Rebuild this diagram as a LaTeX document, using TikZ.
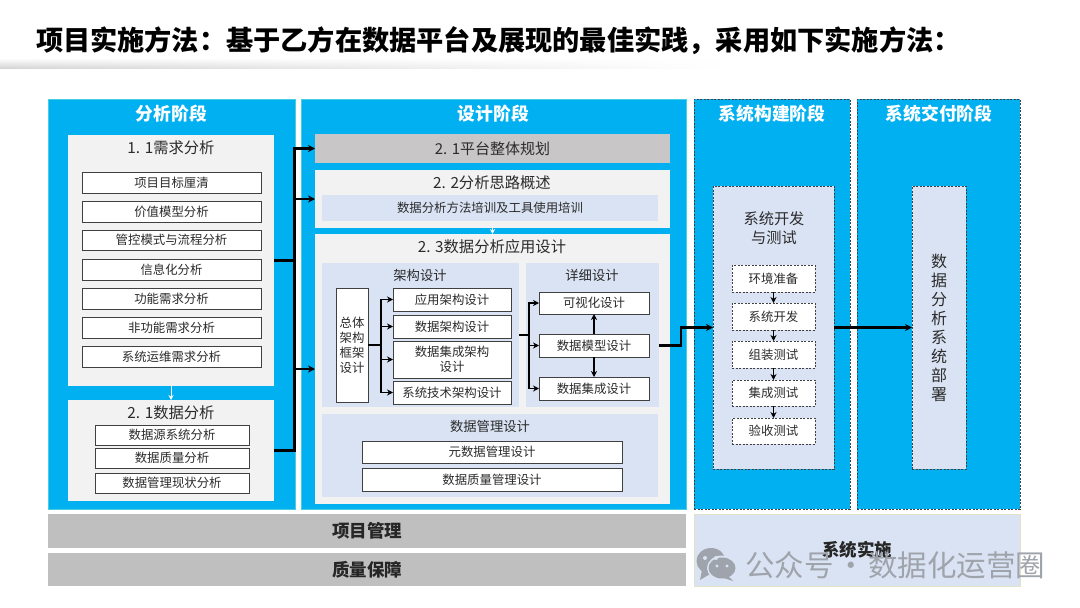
\documentclass[tikz,border=0pt]{standalone}
\usepackage{fontspec}
\setmainfont{Noto Sans CJK SC}
\usetikzlibrary{arrows.meta,calc,fadings}
\definecolor{cblue}{HTML}{00B0F0}
\definecolor{cpale}{HTML}{DAE3F3}
\definecolor{cgrey}{HTML}{F2F2F2}
\definecolor{cbar}{HTML}{BFBFBF}
\definecolor{cplan}{HTML}{C8C6C6}
\definecolor{ctext}{HTML}{2B2B2B}
\definecolor{cedge}{HTML}{404040}
\definecolor{cmark}{HTML}{9FA3AB}
\definecolor{cteal}{HTML}{45CFE0}
\tikzset{
  x=1pt,y=-1pt,
  every node/.style={inner sep=0pt,outer sep=0pt,align=center,text=ctext},
  phase/.style={fill=cblue,draw=cteal,line width=.6pt},
  dphase/.style={fill=cblue,draw=cedge,line width=.7pt,dash pattern=on 2pt off 1.5pt},
  greybox/.style={fill=cgrey},
  palebox/.style={fill=cpale},
  planbox/.style={fill=cplan,font=\fontsize{15}{17}\selectfont},
  whitebox/.style={fill=white,draw=cedge,line width=.9pt,font=\fontsize{12.4}{15}\selectfont},
  dashbox/.style={fill=white,draw=cedge,line width=.7pt,dash pattern=on 2pt off 1.5pt,font=\fontsize{12.4}{15}\selectfont},
  dashpale/.style={fill=cpale,draw=cedge,line width=.7pt,dash pattern=on 2pt off 1.5pt},
  bar/.style={fill=cbar,font=\fontsize{17.5}{19}\selectfont\bfseries,text=black!85},
  phasetitle/.style={text=white,font=\fontsize{17.8}{19}\selectfont\bfseries},
  subtitle/.style={font=\fontsize{15.3}{17}\selectfont},
  smalltitle/.style={font=\fontsize{13.3}{15}\selectfont},
  wire/.style={draw=black,line width=2.2pt},
  arr/.style={draw=black,line width=2.2pt,-{Stealth[length=7pt,width=7pt]}},
  thinwire/.style={draw=black,line width=1.4pt},
  thinarr/.style={draw=black,line width=1.4pt,-{Stealth[length=6pt,width=6pt]}},
  whitearr/.style={draw=white,line width=.9pt,-{Stealth[length=5pt,width=5pt]}},
}
% name, x1, y1, x2, y2, style, text
\newcommand{\bx}[7]{\node[#6,minimum width=#4pt-#2pt,minimum height=#5pt-#3pt] (#1) at ({(#2+#4)/2},{(#3+#5)/2}) {#7};}
\begin{document}
\begin{tikzpicture}
\useasboundingbox (0,0) rectangle (1080,608);
\fill[white] (0,0) rectangle (1080,608);
% title and rule
\shade[top color=white,bottom color=black!16,path fading=east] (0,58) rectangle (720,68);
\node[anchor=west,text=black,font=\fontsize{27.2}{28}\selectfont\bfseries] (title) at (36,41) {项目实施方法\char"FF1A 基于乙方在数据平台及展现的最佳实践\char"FF0C 采用如下实施方法\char"FF1A};
% phases
\bx{phA}{48}{99}{295}{509}{phase}{}
\bx{phB}{301}{99}{686}{509}{phase}{}
\bx{phC}{694}{99}{850}{509}{dphase}{}
\bx{phD}{857}{99}{1020}{509}{dphase}{}
\node[phasetitle] (tA) at (171.5,114) {分析阶段};
\node[phasetitle] (tB) at (493.5,114) {设计阶段};
\node[phasetitle] (tC) at (772,114) {系统构建阶段};
\node[phasetitle] (tD) at (939,114) {系统交付阶段};
% analysis
\bx{req}{68}{135}{274}{386}{greybox}{}
\node[subtitle] (reqT) at (171,148) {1. 1需求分析};
\bx{r1}{82}{172}{261}{193}{whitebox}{项目目标厘清}
\bx{r2}{82}{201}{261}{222}{whitebox}{价值模型分析}
\bx{r3}{82}{230}{261}{250}{whitebox}{管控模式与流程分析}
\bx{r4}{82}{259}{261}{280}{whitebox}{信息化分析}
\bx{r5}{82}{288}{261}{309}{whitebox}{功能需求分析}
\bx{r6}{82}{317}{261}{338}{whitebox}{非功能需求分析}
\bx{r7}{82}{346}{261}{367}{whitebox}{系统运维需求分析}
\bx{dat}{68}{400}{274}{501}{greybox}{}
\node[subtitle] (datT) at (171,413) {2. 1数据分析};
\bx{d1}{95}{425}{249}{445}{whitebox}{数据源系统分析}
\bx{d2}{95}{448}{249}{468}{whitebox}{数据质量分析}
\bx{d3}{95}{473}{249}{493}{whitebox}{数据管理现状分析}
% design
\bx{p1}{315}{134}{670}{163}{planbox}{2. 1平台整体规划}
\bx{p2}{315}{170}{670}{228}{greybox}{}
\node[subtitle] (p2T) at (492,183) {2. 2分析思路概述};
\bx{p2i}{322}{195}{658}{221}{palebox,font=\fontsize{12.4}{15}\selectfont}{数据分析方法培训及工具使用培训}
\bx{p3}{315}{234}{670}{504}{greybox}{}
\node[subtitle] (p3T) at (492,247) {2. 3数据分析应用设计};
\bx{arch}{322}{263}{519}{407}{palebox}{}
\node[smalltitle] (archT) at (420,275) {架构设计};
\bx{detail}{526}{263}{659}{407}{palebox}{}
\node[smalltitle] (detailT) at (592,275) {详细设计};
\bx{zt}{336}{288}{368}{402}{whitebox}{总体\\架构\\框架\\设计}
\bx{a1}{393}{288}{511}{311}{whitebox}{应用架构设计}
\bx{a2}{393}{315}{511}{338}{whitebox}{数据架构设计}
\bx{a3}{393}{341}{511}{378}{whitebox}{数据集成架构\\设计}
\bx{a4}{393}{381}{511}{404}{whitebox}{系统技术架构设计}
\bx{v1}{539}{292}{649}{314}{whitebox}{可视化设计}
\bx{v2}{539}{334}{649}{357}{whitebox}{数据模型设计}
\bx{v3}{539}{377}{649}{400}{whitebox}{数据集成设计}
\bx{mg}{322}{414}{658}{497}{palebox}{}
\node[smalltitle] (mgT) at (490,426) {数据管理设计};
\bx{m1}{362}{441}{622}{463}{whitebox}{元数据管理设计}
\bx{m2}{362}{468}{622}{491}{whitebox}{数据质量管理设计}
% build
\bx{dev}{713}{186}{834}{469}{dashpale}{}
\node[font=\fontsize{15.2}{19}\selectfont] (devT) at (774,228) {系统开发\\与测试};
\bx{b1}{732}{265}{815}{292}{dashbox}{环境准备}
\bx{b2}{732}{303}{815}{330}{dashbox}{系统开发}
\bx{b3}{732}{341}{815}{368}{dashbox}{组装测试}
\bx{b4}{732}{380}{815}{406}{dashbox}{集成测试}
\bx{b5}{732}{418}{815}{444}{dashbox}{验收测试}
% delivery
\bx{dep}{912}{186}{966}{469}{dashpale,font=\fontsize{16}{19}\selectfont}{数\\据\\分\\析\\系\\统\\部\\署}
% bottom bars
\bx{pm}{48}{514}{686}{548}{bar}{项目管理}
\bx{qa}{48}{553}{686}{586}{bar}{质量保障}
\node[fill=cpale,draw=yellow!18!cpale,line width=.6pt,minimum width=326pt,minimum height=72pt] (impl) at (857,550) {};
% connectors: analysis to design
\coordinate (trk) at (294.5,260.5);
\draw[wire] (req.east) -- (trk);
\draw[wire] (dat.east) -| (trk);
\draw[arr] (trk) |- (p1.west);
\draw[arr] (trk) |- (p2.west);
\draw[arr] (trk) |- (p3.west);
\draw[whitearr] (req.south) -- (dat.north);
\draw[whitearr] (p2.south) -- (p3.north);
% architecture
\coordinate (trkA) at (381,345);
\draw[thinwire] (zt.east) -- (trkA);
\foreach \n in {a1,a2,a3,a4} \draw[thinarr] (trkA) |- (\n.west);
\coordinate (trkB) at (529,335);
\draw[thinwire] (arch.east) -- (trkB);
\foreach \n in {v1,v2,v3} \draw[thinarr] (trkB) |- (\n.west);
\draw[thinarr] (v2.north) -- (v1.south);
\draw[thinarr] (v2.south) -- (v3.north);
% to build and delivery
\coordinate (outA) at (659,345.5);
\coordinate (outB) at (681,345.5);
\draw[arr] (outA) -- (outB) |- (dev.west);
\draw[arr] (dev.east) -- (dep.west);
\foreach \s/\t in {b1/b2,b2/b3,b3/b4,b4/b5} \draw[thinarr] (\s.south) -- (\t.north);
% watermark
\fill[cmark] (711,561) ellipse (14.5pt and 13pt);
\fill[cmark] (702,570) -- (700,580) -- (710,574) -- cycle;
\fill[cpale] (722,568) ellipse (15pt and 12.5pt);
\fill[cmark] (722,568) ellipse (13.5pt and 10.5pt);
\fill[cmark] (728,576) -- (733,581) -- (724,578) -- cycle;
\fill[cpale] (705,558) circle (2pt) (716,558) circle (2pt);
\fill[cpale] (717,566) circle (1.7pt) (727,566) circle (1.7pt);
\node[text=black!85,font=\fontsize{17.5}{19}\selectfont\bfseries] (implT) at (857,550) {系统实施};
\node[anchor=west,text=cmark,font=\fontsize{29.5}{30}\selectfont] (wm) at (745,565) {公众号\makebox[35pt]{·}数据化运营圈};
\end{tikzpicture}
\end{document}
